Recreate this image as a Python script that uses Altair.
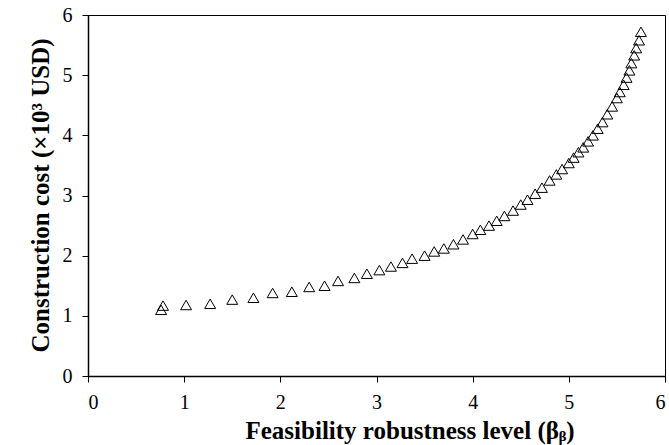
import altair as alt
import pandas as pd

beta = [0.76, 0.78, 1.02, 1.27, 1.50, 1.72, 1.92, 2.12, 2.30, 2.46, 2.60, 2.77, 2.90,
        3.03, 3.15, 3.27, 3.37, 3.50, 3.60, 3.70, 3.80, 3.90, 4.00, 4.08, 4.17,
        4.25, 4.33, 4.42, 4.50, 4.57, 4.65, 4.72, 4.80, 4.87, 4.93, 5.00, 5.05,
        5.10, 5.15, 5.20, 5.25, 5.30, 5.35, 5.40, 5.45, 5.50, 5.53, 5.57, 5.60,
        5.63, 5.65, 5.68, 5.70, 5.73, 5.75]
cost = [1.10, 1.17, 1.18, 1.20, 1.27, 1.30, 1.38, 1.40, 1.48, 1.50, 1.58, 1.63, 1.70,
        1.76, 1.82, 1.88, 1.95, 2.00, 2.07, 2.12, 2.19, 2.27, 2.36, 2.43, 2.50,
        2.58, 2.66, 2.75, 2.85, 2.93, 3.03, 3.13, 3.25, 3.35, 3.44, 3.54, 3.63,
        3.72, 3.80, 3.90, 4.00, 4.11, 4.22, 4.35, 4.48, 4.62, 4.72, 4.84, 4.96,
        5.08, 5.20, 5.33, 5.45, 5.58, 5.72]

df = pd.DataFrame({"beta": beta, "cost": cost})

font = "Liberation Serif"

chart = alt.Chart(df).mark_point(
    shape="triangle-up", filled=False, stroke="black", strokeWidth=1, size=120, opacity=1
).encode(
    x=alt.X("beta:Q", scale=alt.Scale(domain=[0, 6], nice=False),
            axis=alt.Axis(values=[0, 1, 2, 3, 4, 5, 6], title="Feasibility robustness level (βᵦ)",
                          labelPadding=10, titlePadding=6, titleAlign="left", titleX=157)),
    y=alt.Y("cost:Q", scale=alt.Scale(domain=[0, 6], nice=False),
            axis=alt.Axis(values=[0, 1, 2, 3, 4, 5, 6], title="Construction cost (×10³ USD)",
                          labelPadding=10, titleX=-48, titleY=180, titleBaseline="middle",
                          titleAlign="center")),
).properties(
    width=577, height=361,
    autosize=alt.AutoSizeParams(type="none"),
    padding={"left": 88, "top": 15, "right": 4, "bottom": 69},
).configure_view(
    stroke="black", strokeWidth=1
).configure_axis(
    grid=False, domainColor="black", domainWidth=1.5, tickColor="black", tickSize=6,
    tickWidth=1, labelFont=font, labelFontSize=20, labelColor="black",
    titleFont=font, titleFontSize=25, titleFontWeight="bold", titleColor="black",
)

chart.save("out.html", embed_options={"renderer": "svg", "actions": False})
